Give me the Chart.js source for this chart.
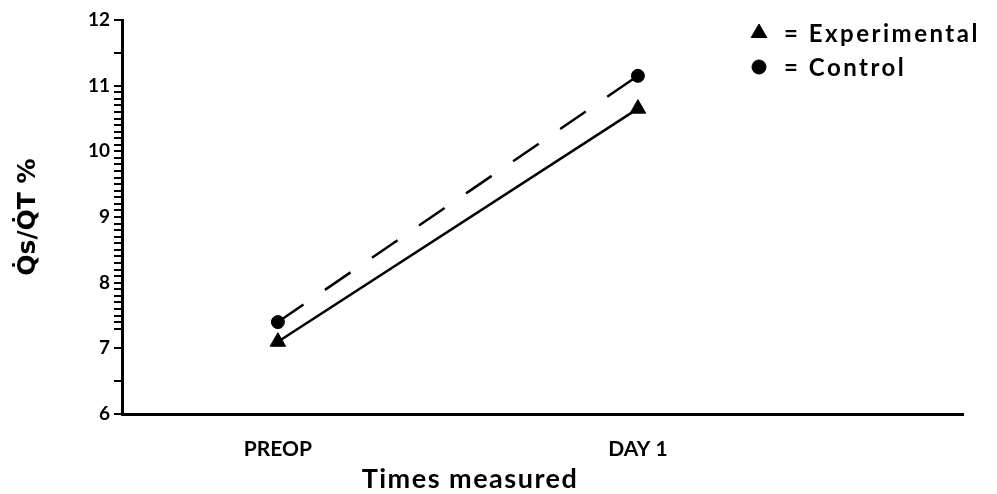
<!DOCTYPE html>
<html><head><meta charset="utf-8">
<script src="https://cdn.jsdelivr.net/npm/chart.js@4/dist/chart.umd.min.js"></script>
<style>html,body{margin:0;padding:0;background:#fff;}canvas{display:block}</style>
</head><body>
<canvas id="c" width="997" height="494"></canvas>
<script>
// ---- data ----
const categories = ['PREOP', 'DAY 1'];
const categoryPositions = [1, 2];
const experimental = [7.1, 10.65];
const control = [7.4, 11.15];
const yTicks = [6, 7, 8, 9, 10, 11, 12];
const seriesNames = ['Experimental', 'Control'];
const yTitle = 'Q\u0307s/Q\u0307T %';
const xTitle = 'Times measured';

const FONT = 'Lato, "DejaVu Sans", sans-serif';

const toPoints = vals => vals.map((v, i) => ({ x: categoryPositions[i], y: v }));

const legendPlugin = {
  id: 'customLegend',
  afterDraw(chart) {
    const ctx = chart.ctx;
    const items = [
      { style: 'triangle', r: 9, y: 33, text: '= ' + seriesNames[0] },
      { style: 'circle', r: 7, y: 67, text: '= ' + seriesNames[1] }
    ];
    ctx.save();
    items.forEach(it => {
      ctx.fillStyle = '#000';
      ctx.strokeStyle = '#000';
      ctx.lineWidth = 1;
      Chart.helpers.drawPoint(ctx, { pointStyle: it.style, radius: it.r, rotation: 0, borderWidth: 1 }, 759, it.y);
      ctx.fillStyle = '#000';
      ctx.font = 'bold 24px ' + FONT;
      ctx.letterSpacing = '2.5px';
      ctx.textAlign = 'left';
      ctx.textBaseline = 'middle';
      ctx.fillText(it.text, 784, it.y + 1);
    });
    // x axis title
    ctx.font = 'bold 27px ' + FONT;
    ctx.letterSpacing = '1.5px';
    ctx.textAlign = 'center';
    ctx.textBaseline = 'middle';
    ctx.fillText(xTitle, 470, 479);
    ctx.restore();
  }
};

new Chart(document.getElementById('c'), {
  type: 'line',
  data: {
    datasets: [
      {
        label: seriesNames[0],
        data: toPoints(experimental),
        borderColor: '#000',
        backgroundColor: '#000',
        borderWidth: 2.5,
        pointStyle: 'triangle',
        pointRadius: 9,
        pointBorderWidth: 1,
        fill: false
      },
      {
        label: seriesNames[1],
        data: toPoints(control),
        borderColor: '#000',
        backgroundColor: '#000',
        borderWidth: 2.5,
        borderDash: [31, 26],
        pointStyle: 'circle',
        pointRadius: 6.5,
        pointBorderWidth: 1,
        fill: false
      }
    ]
  },
  options: {
    responsive: false,
    animation: false,
    layout: { padding: { top: 20, right: 34, left: 0, bottom: 0 } },
    plugins: { legend: { display: false }, tooltip: { enabled: false } },
    scales: {
      x: {
        type: 'linear',
        min: 0.567,
        max: 2.903,
        border: { color: '#000', width: 3 },
        grid: { display: false },
        afterBuildTicks(scale) {
          scale.ticks = categoryPositions.map(v => ({ value: v }));
        },
        afterFit(scale) { scale.height = 80; },
        ticks: {
          padding: 15,
          color: '#000',
          font: { family: FONT, size: 21, weight: 'bold' },
          callback: v => {
            const i = categoryPositions.indexOf(v);
            return i >= 0 ? categories[i] : '';
          }
        }
      },
      y: {
        type: 'linear',
        position: 'left',
        min: yTicks[0],
        max: yTicks[yTicks.length - 1],
        border: { color: '#000', width: 3 },
        grid: { drawOnChartArea: false, drawTicks: true, tickLength: 8, color: '#000', lineWidth: 2 },
        afterBuildTicks(scale) {
          const t = [];
          for (let i = yTicks[0] * 10; i <= yTicks[yTicks.length - 1] * 10; i++) {
            const v = i / 10;
            if (yTicks.includes(v) || i === 65 || i === 115 || (i >= 73 && i <= 110)) t.push({ value: v });
          }
          scale.ticks = t;
        },
        afterFit(scale) { scale.width = 122; },
        ticks: {
          autoSkip: false,
          padding: 4,
          color: '#000',
          font: { family: FONT, size: 19, weight: 'bold' },
          callback: v => (yTicks.includes(v) ? String(v) : '')
        },
        title: {
          display: true,
          text: yTitle,
          color: '#000',
          font: { family: '"DejaVu Sans", sans-serif', size: 25, weight: 'bold' },
          padding: { top: 13, bottom: 0 }
        }
      }
    }
  },
  plugins: [legendPlugin]
});
</script>
</body></html>
